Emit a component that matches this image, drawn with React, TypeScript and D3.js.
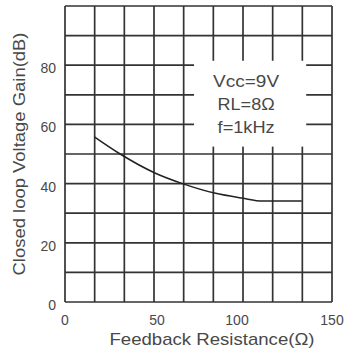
import * as d3 from 'd3';

const resistance = [16.5, 31, 50.5, 66, 84, 99.5, 111, 133];
const gain = [55.8, 50, 43.6, 40, 36.8, 35.1, 34.1, 34.1];

const xTicks = [0, 50, 100, 150];
const yTicks = [0, 20, 40, 60, 80];
const legendLines = ['Vcc=9V', 'RL=8\u03a9', 'f=1kHz'];

const W = 358;
const H = 354;
const font = '"Liberation Sans", Arial, sans-serif';
const ink = '#333';
const textInk = '#484848';

export default function App() {
  const x = d3.scaleLinear().domain([0, 150]).range([65, 332]);
  const y = d3.scaleLinear().domain([0, 100]).range([302, 6]);

  // 9 columns, 10 rows
  const xGrid = d3.range(0, 10).map(i => (i * 150) / 9);
  const yGrid = d3.range(0, 11).map(i => i * 10);

  const pts: [number, number][] = resistance.map((r, i) => [r, gain[i]]);
  const line = d3.line<[number, number]>()
    .x(d => x(d[0]))
    .y(d => y(d[1]))
    .curve(d3.curveMonotoneX);

  // white box behind the conditions text
  const box = { x0: x(72.5), x1: x(135.5), y0: y(81.5), y1: y(52.5) };
  const boxCx = (box.x0 + box.x1) / 2;

  return (
    <svg width={W} height={H} style={{ position: 'absolute', left: 0, top: 0, background: '#fff' }}>
      <rect width={W} height={H} fill="#fff" />
      <g stroke={ink} strokeWidth={1.7}>
        {xGrid.map((v, i) => (
          <line key={'vx' + i} x1={x(v)} x2={x(v)} y1={y(0)} y2={y(100)} />
        ))}
        {yGrid.map((v, i) => (
          <line key={'hy' + i} x1={x(0)} x2={x(150)} y1={y(v)} y2={y(v)} />
        ))}
      </g>
      <rect x={box.x0} y={box.y0} width={box.x1 - box.x0} height={box.y1 - box.y0} fill="#fff" />
      <g fontFamily={font} fill={textInk} textAnchor="middle">
        {legendLines.map((t, i) => (
          <text key={t} x={boxCx - 4} y={box.y0 + 26 + i * 23} fontSize={16}
            textLength={[66, 57, 57][i]} lengthAdjust="spacingAndGlyphs">
            {t}
          </text>
        ))}
      </g>
      <path d={line(pts) || ''} fill="none" stroke="#222" strokeWidth={1.5} />
      <g fontFamily={font} fill={textInk} fontSize={14}>
        {yTicks.map(v => (
          <text key={'yt' + v} x={56} y={y(v) + 8} textAnchor="end">{v}</text>
        ))}
        {xTicks.map(v => (
          <text key={'xt' + v} x={x(v) + (v === 100 ? -6 : v === 50 ? 3 : 0)} y={325} textAnchor="middle">{v}</text>
        ))}
      </g>
      <text x={212} y={345} fontFamily={font} fontSize={17} fill={textInk} textAnchor="middle"
        textLength={205} lengthAdjust="spacingAndGlyphs">
        Feedback Resistance(Ω)
      </text>
      <text transform={`translate(25,${(y(0) + y(100)) / 2}) rotate(-90)`} fontFamily={font} fontSize={17}
        fill={textInk} textAnchor="middle" textLength={243} lengthAdjust="spacingAndGlyphs">
        Closed loop Voltage Gain(dB)
      </text>
    </svg>
  );
}
